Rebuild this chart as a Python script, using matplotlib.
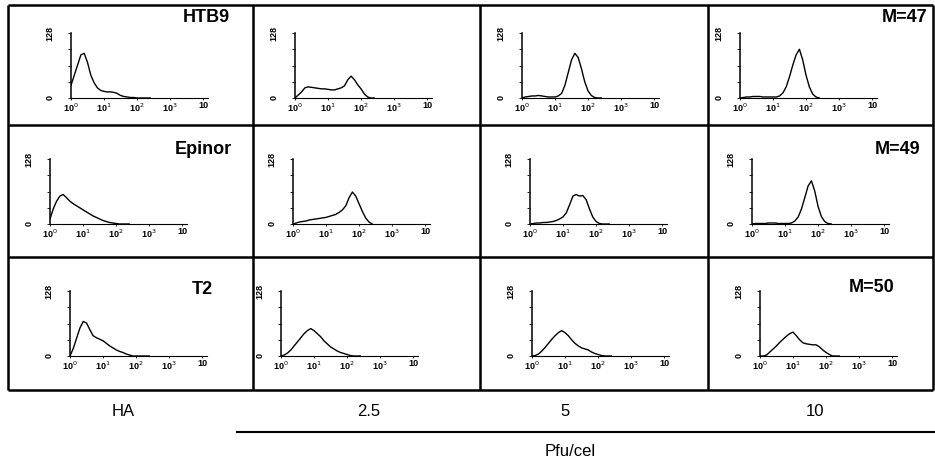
import numpy as np
import matplotlib
matplotlib.use("Agg")
import matplotlib.pyplot as plt

plt.rcParams['font.family'] = ['Liberation Sans', 'DejaVu Sans']

# ---------------- data ----------------
cell_lines = ["HTB9", "Epinor", "T2"]
doses = ["HA", "2.5", "5", "10"]
dose_axis_label = "Pfu/cel"
mean_labels = ["M=47", "M=49", "M=50"]
y_max = 128
x_tick_exponents = [0, 1, 2, 3, 4]

# log10 fluorescence positions (decades)
decades = [0.0, 0.1, 0.2, 0.3, 0.4, 0.5, 0.6, 0.7, 0.8, 0.9, 1.0, 1.1, 1.2,
           1.3, 1.4, 1.5, 1.6, 1.7, 1.8, 1.9, 2.0, 2.1, 2.2, 2.3, 2.4]

# counts per row (cell line) and column (HA, 2.5, 5, 10)
htb9_ha  = [25, 45, 65, 85, 88, 70, 45, 30, 20, 15, 13, 12, 12, 11, 9, 5, 3, 2, 1, 1, 0, 0, 0, 0, 0]
htb9_25  = [0, 6, 12, 20, 22, 21, 20, 19, 18, 18, 17, 16, 16, 18, 20, 24, 36, 43, 36, 26, 18, 8, 2, 0, 0]
htb9_5   = [0, 2, 3, 4, 4, 5, 4, 3, 2, 2, 2, 4, 9, 25, 50, 75, 88, 80, 58, 32, 14, 5, 1, 0, 0]
htb9_10  = [0, 1, 2, 2, 3, 3, 3, 2, 2, 2, 2, 2, 4, 10, 22, 42, 65, 85, 96, 75, 45, 22, 8, 2, 0]

epi_ha   = [10, 30, 45, 55, 58, 52, 45, 40, 36, 32, 28, 24, 20, 16, 13, 10, 7, 5, 3, 2, 1, 0, 0, 0, 0]
epi_25   = [0, 2, 4, 5, 6, 8, 9, 10, 11, 12, 13, 15, 17, 19, 23, 28, 36, 52, 63, 55, 40, 25, 12, 4, 0]
epi_5    = [0, 1, 2, 2, 3, 3, 4, 5, 7, 10, 14, 22, 38, 55, 58, 55, 56, 48, 30, 14, 5, 1, 0, 0, 0]
epi_10   = [0, 1, 1, 1, 1, 2, 2, 2, 1, 1, 1, 1, 2, 6, 14, 30, 52, 75, 85, 65, 35, 15, 5, 1, 0]

t2_ha    = [0, 15, 35, 55, 68, 65, 52, 40, 36, 33, 30, 25, 20, 16, 12, 9, 7, 4, 2, 0, 0, 0, 0, 0, 0]
t2_25    = [0, 2, 6, 12, 20, 28, 36, 44, 50, 54, 50, 44, 38, 30, 24, 18, 14, 10, 7, 5, 3, 1, 0, 0, 0]
t2_5     = [0, 1, 4, 10, 17, 25, 33, 40, 46, 50, 46, 40, 32, 25, 20, 16, 14, 12, 8, 5, 3, 1, 0, 0, 0]
t2_10    = [0, 0, 2, 8, 14, 20, 27, 33, 39, 44, 47, 40, 32, 26, 24, 23, 22, 22, 18, 12, 7, 3, 0, 0, 0]

histograms = [[htb9_ha, htb9_25, htb9_5, htb9_10],
              [epi_ha, epi_25, epi_5, epi_10],
              [t2_ha, t2_25, t2_5, t2_10]]

# ---------------- layout (pixels) ----------------
W, H = 935, 462
fig = plt.figure(figsize=(W / 100, H / 100), dpi=100)
bg = fig.add_axes([0, 0, 1, 1])
bg.set_xlim(0, W)
bg.set_ylim(H, 0)
bg.axis("off")

col_edges = [8, 253, 480, 708, 933]
row_edges = [5, 125, 257, 390]
for xe in col_edges:
    bg.plot([xe, xe], [row_edges[0], row_edges[-1]], color="black", lw=1.8, solid_capstyle="butt")
for ye in row_edges:
    bg.plot([col_edges[0], col_edges[-1]], [ye, ye], color="black", lw=1.8, solid_capstyle="butt")

# inner axes origin (x of y-axis, y of baseline) for each cell
origins = [[(71, 98), (295, 98), (522, 98), (740, 98)],
           [(50, 224), (293, 224), (530, 224), (752, 224)],
           [(70, 356), (281, 356), (532, 356), (760, 356)]]
ax_w, ax_h = 137, 65

x_vals = [10 ** d for d in decades]
for r in range(3):
    for c in range(4):
        x0, yb = origins[r][c]
        ax = fig.add_axes([x0 / W, (H - yb) / H, ax_w / W, ax_h / H])
        ax.plot(x_vals, histograms[r][c], color="black", lw=1.0)
        ax.set_xscale("log")
        ax.set_xlim(1, 10 ** 4.15)
        ax.set_ylim(0, y_max)
        ax.patch.set_alpha(0)
        for s in ["top", "right"]:
            ax.spines[s].set_visible(False)
        ax.spines["left"].set_linewidth(1.1)
        ax.spines["bottom"].set_linewidth(0.8)
        ax.spines["bottom"].set_linestyle((0, (6, 1)))
        ax.set_xticks([10 ** e for e in x_tick_exponents])
        ax.set_xticklabels(["10$^{%d}$" % e if e < 4 else "10" for e in x_tick_exponents],
                           fontsize=6.5, fontweight="bold")
        ax.xaxis.set_minor_locator(matplotlib.ticker.NullLocator())
        ax.tick_params(axis="x", length=1.5, width=0.6, pad=1)
        ax.set_yticks([0, 32, 64, 96, 128])
        ax.set_yticklabels(["0", "", "", "", "128"], fontsize=6.5, fontweight="bold",
                           rotation=90, va="center")
        ax.tick_params(axis="y", length=2, width=0.6, pad=10)

# row labels and mean labels
bg.text(230, 17, cell_lines[0], ha="right", va="center", fontsize=13, fontweight="bold")
bg.text(232, 150, cell_lines[1], ha="right", va="center", fontsize=13, fontweight="bold")
bg.text(213, 289, cell_lines[2], ha="right", va="center", fontsize=13, fontweight="bold")
bg.text(927, 17, mean_labels[0], ha="right", va="center", fontsize=13, fontweight="bold")
bg.text(920, 150, mean_labels[1], ha="right", va="center", fontsize=13, fontweight="bold")
bg.text(895, 287, mean_labels[2], ha="right", va="center", fontsize=13, fontweight="bold")

# bottom labels
dose_x = [123, 369, 565, 815]
for dx, lab in zip(dose_x, doses):
    bg.text(dx, 411, lab, ha="center", va="center", fontsize=12)
bg.plot([237, 935], [432, 432], color="black", lw=1.5)
bg.text(570, 451, dose_axis_label, ha="center", va="center", fontsize=12)

fig.savefig("out.png", dpi=100)
